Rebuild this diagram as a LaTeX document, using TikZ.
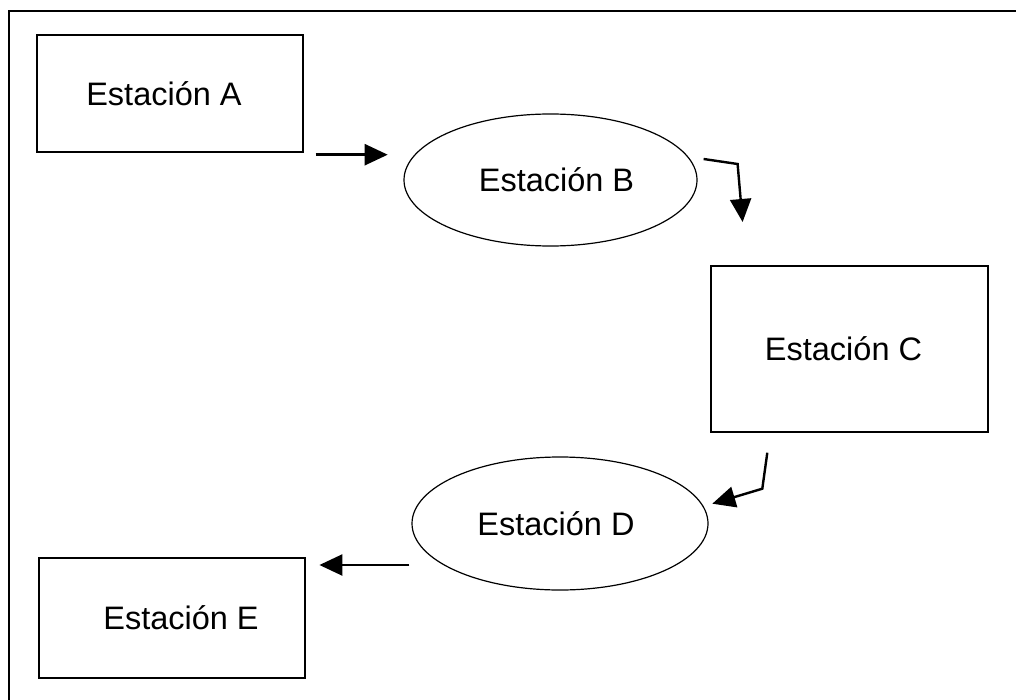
\documentclass[tikz,border=0pt]{standalone}
\usepackage{fontspec}
\setmainfont{Liberation Sans}
\usetikzlibrary{shapes.geometric,arrows.meta}

\begin{document}
\begin{tikzpicture}[x=1pt,y=-1pt,
    estacion/.style={draw,line width=1.4pt,inner sep=0pt,font=\fontsize{32.5}{38}\selectfont},
    elipse/.style={estacion,ellipse,line width=1.2pt},
    flecha/.style={line width=2.4pt,-{Triangle[length=23pt,width=21pt]}}]
            \useasboundingbox (0,0) rectangle (1016,700);
            \draw [line width=2pt] (9,700) -- (9,11) -- (1016,11);
            % estaciones
            \node [estacion,minimum width=266,minimum height=117] (a) at (170,93.5) {Estación A\hspace*{12pt}};
            \node [elipse,minimum width=293,minimum height=132] (b) at (550.5,180) {\hspace*{12pt}Estación B};
            \node [estacion,minimum width=277,minimum height=166] (c) at (849.5,349) {Estación C\hspace*{12pt}};
            \node [elipse,minimum width=296,minimum height=133] (d) at (560,523.5) {Estación D\hspace*{8pt}};
            \node [estacion,minimum width=266,minimum height=120] (e) at (172,618) {\hspace*{18pt}Estación E};
            % flechas
            \draw [flecha] ([shift={(12,2)}]a.south east) -- ++(72,0);
            \draw [flecha] ([shift={(6,-21)}]b.east) -- ++(34,5) -- ++(5,58);
            \draw [flecha] ([shift={(57,20)}]c.south west) -- ++(-5,36) -- ++(-50,15);
            \draw [flecha] ([shift={(-2,41.5)}]d.west) -- ++(-90,0);
        \end{tikzpicture}
\end{document}
